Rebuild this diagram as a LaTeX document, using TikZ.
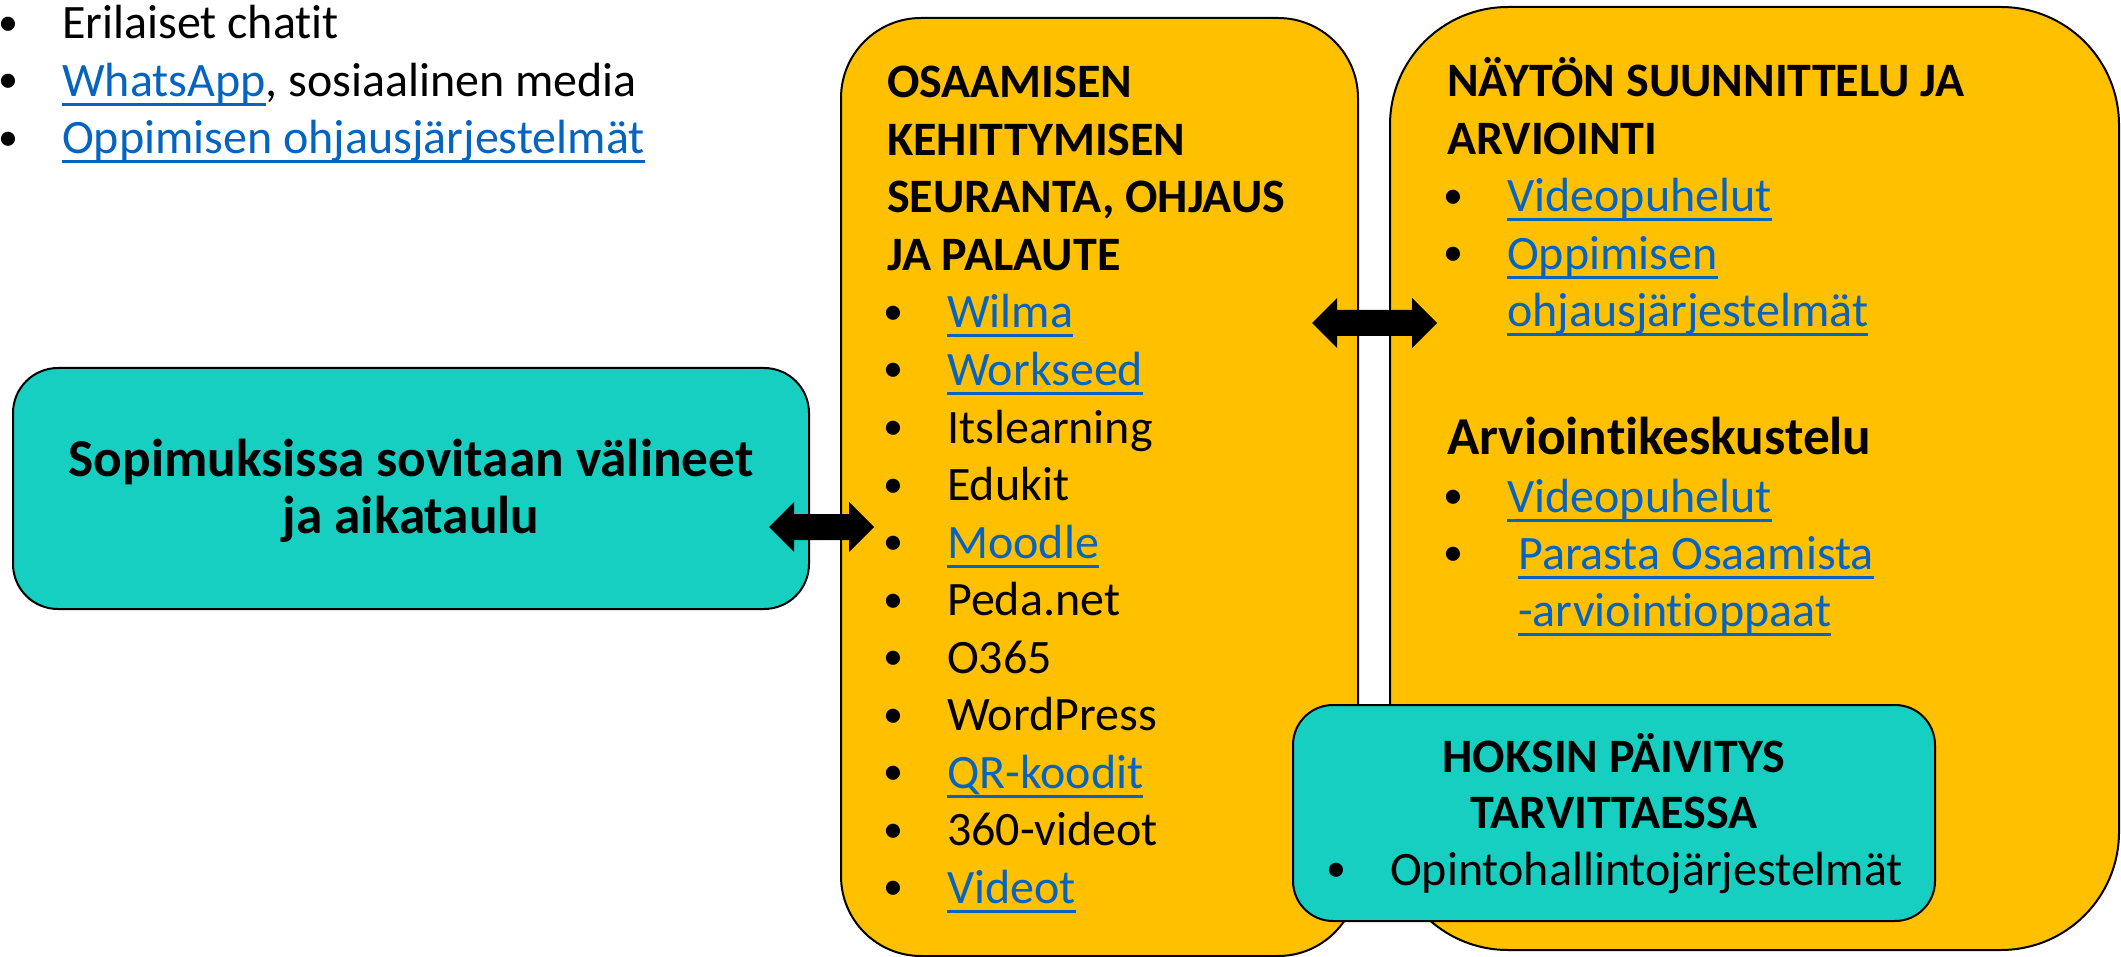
\documentclass[tikz,border=0pt]{standalone}
\usepackage{fontspec}
\setmainfont{Carlito}[Ligatures=NoCommon]
\usepackage{tikz}
\usetikzlibrary{calc}
\usetikzlibrary{positioning}

\definecolor{gold}{HTML}{FFC000}
\definecolor{tealbox}{HTML}{17CFC1}
\definecolor{linkblue}{HTML}{0563C1}

\newcommand\bul{\makebox[60pt][l]{\hspace*{-4pt}\raisebox{3.5pt}{\fontsize{40}{40}\selectfont•}}}
\newcommand\lnk[1]{{\color{linkblue}\setbox0\hbox{#1}\rlap{\rule[-9.5pt]{\wd0}{3pt}}\box0}}

\begin{document}
\begin{tikzpicture}[x=1pt,y=-1pt,
  txt/.style={anchor=base west,inner sep=0pt,font=\fontsize{48}{57.5}\selectfont},
  hd/.style={txt,font=\fontsize{48}{57.5}\selectfont\bfseries},
  big/.style={txt,font=\fontsize{53.3}{64}\selectfont\bfseries},
  panel/.style={draw,line width=2pt,inner sep=0pt},
  fatarrow/.style={fill=black,to path={(\tikztostart) -- ++(25,-25) -- ++(0,12)
      -- ([shift={(-25,-13)}]\tikztotarget) -- ++(0,-12) -- (\tikztotarget)
      -- ++(-25,25) -- ++(0,-12) -- ([shift={(25,13)}]\tikztostart) -- ++(0,12) -- cycle}}]
 \useasboundingbox (0,0) rectangle (2121,957);

 \foreach \t [count=\i from 0] in {Erilaiset chatit,{\lnk{WhatsApp}, sosiaalinen media},\lnk{Oppimisen ohjausjärjestelmät}}
   \node[txt] (chat\i) at (2,39+57.5*\i) {\bul\t};

 \node[panel,fill=gold,rounded corners=80pt,minimum width=517pt,minimum height=938pt] (seuranta) at (1099.5,487) {};
 \node[panel,fill=gold,rounded corners=118pt,minimum width=729pt,minimum height=943pt] (naytto) at (1754.5,478.5) {};
 \node[panel,fill=tealbox,rounded corners=45pt,minimum width=796pt,minimum height=241pt] (sopimus) at (411,488.5) {};
 \node[panel,fill=tealbox,rounded corners=40pt,minimum width=642pt,minimum height=216pt] (hoks) at (1614,813) {};

 \node[big,anchor=base] (sop1) at (411,476) {Sopimuksissa sovitaan välineet};
 \node[big,anchor=base] (sop2) at (411,533) {ja aikataulu};

 \foreach \t [count=\i from 0] in {OSAAMISEN,KEHITTYMISEN,{SEURANTA, OHJAUS},JA PALAUTE}
   \node[hd] (seur\i) at (887,98+57.5*\i) {\t};
 \foreach \t [count=\i from 4] in {\lnk{Wilma},\lnk{Workseed},Itslearning,Edukit,\lnk{Moodle},Peda.net,O365,WordPress,\lnk{QR-koodit},360-videot,\lnk{Videot}}
   \node[txt] (seur\i) at (887,98+57.5*\i) {\bul\t};

 \node[hd] (nay0) at (1447,97) {NÄYTÖN SUUNNITTELU JA};
 \node[hd] (nay1) at (1447,154.5) {ARVIOINTI};
 \node[txt] (nay2) at (1447,212) {\bul\lnk{Videopuhelut}};
 \node[txt] (nay3) at (1447,269.5) {\bul\lnk{Oppimisen}};
 \node[txt] (nay4) at (1447,327) {\hspace*{60pt}\lnk{ohjausjärjestelmät}};
 \node[big] (arv0) at (1447,454) {Arviointikeskustelu};
 \node[txt] (arv1) at (1447,512) {\bul\lnk{Videopuhelut}};
 \node[txt] (arv2) at (1447,569) {\bul\hspace*{11pt}\lnk{Parasta Osaamista}};
 \node[txt] (arv3) at (1447,626) {\hspace*{71pt}\lnk{-arviointioppaat}};

 \node[hd,anchor=base] (hoks1) at (1614,772) {HOKSIN PÄIVITYS};
 \node[hd,anchor=base] (hoks2) at (1614,828) {TARVITTAESSA};
 \node[txt] (hoks3) at (1330,885) {\bul Opintohallintojärjestelmät};

 \coordinate (a1) at (769,527);
 \coordinate (b1) at (874,527);
 \coordinate (a2) at (1312,323);
 \coordinate (b2) at (1437,323);
 \fill[fatarrow] (a1) to (b1);
 \fill[fatarrow] (a2) to (b2);
\end{tikzpicture}
\end{document}
